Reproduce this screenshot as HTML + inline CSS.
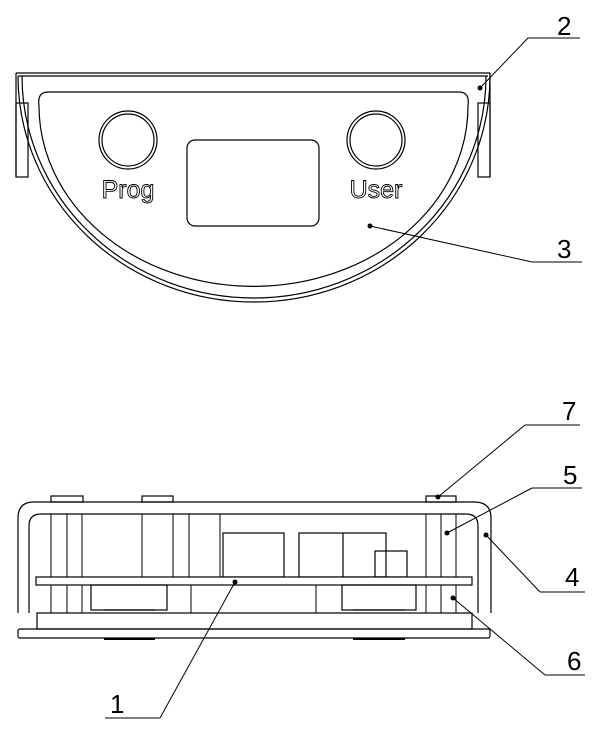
<!DOCTYPE html>
<html><head><meta charset="utf-8"><style>html,body{margin:0;padding:0;background:#fff}svg{display:block}</style></head>
<body>
<svg width="605" height="730" viewBox="0 0 605 730" xmlns="http://www.w3.org/2000/svg" fill="none" stroke="#000" stroke-width="1.2">
<!-- TOP VIEW -->
<line x1="16" y1="73" x2="490" y2="73"/>
<line x1="18" y1="76" x2="488" y2="76"/>
<line x1="16" y1="73" x2="16" y2="177"/><line x1="490" y1="73" x2="490" y2="177"/>
<rect x="16" y="103" width="12" height="74"/>
<rect x="478" y="103" width="12" height="74"/>
<path d="M18 76 A236 226 0 0 0 490 76"/>
<path d="M22 76 A232 222 0 0 0 486 76"/>
<path d="M48 92 L459 92 Q470 92 468 106 A214 180 0 0 1 39 106 Q37 92 48 92 Z"/>
<ellipse cx="128" cy="140" rx="29" ry="29"/><ellipse cx="128" cy="140" rx="26" ry="26"/>
<ellipse cx="376" cy="140" rx="29" ry="29"/><ellipse cx="376" cy="140" rx="26" ry="26"/>
<rect x="187" y="140" width="132" height="86" rx="8"/>
<text x="128" y="198" font-family="Liberation Sans, sans-serif" font-size="25" text-anchor="middle" stroke-width="0.9">Prog</text>
<text x="376" y="198" font-family="Liberation Sans, sans-serif" font-size="25" text-anchor="middle" stroke-width="0.9">User</text>
<!-- leaders top -->
<g stroke-width="1">
<line x1="480" y1="88" x2="528" y2="38"/><line x1="528" y1="38" x2="580" y2="38"/>
<line x1="370" y1="226" x2="532" y2="262"/><line x1="532" y1="262" x2="582" y2="262"/>
</g>
<g fill="#000" stroke="none"><circle cx="480" cy="88" r="2.5"/><circle cx="370" cy="226" r="2.5"/></g>
<!-- SIDE VIEW -->
<rect x="51" y="496" width="32" height="6"/><rect x="142" y="496" width="31" height="6"/><rect x="426" y="496" width="30" height="6"/>
<path d="M18 613 L18 518 Q18 502 34 502 L474 502 Q491 502 491 518 L491 613"/>
<path d="M29 613 L29 526 Q29 514 41 514 L466 514 Q478 514 478 526 L478 613"/>
<g stroke-width="1">
<line x1="51" y1="514" x2="51" y2="613"/><line x1="67" y1="514" x2="67" y2="613"/><line x1="82" y1="514" x2="82" y2="613"/>
<line x1="142" y1="514" x2="142" y2="577"/><line x1="173" y1="514" x2="173" y2="577"/><line x1="189" y1="514" x2="189" y2="577"/><line x1="220" y1="514" x2="220" y2="577"/>
<line x1="191" y1="585" x2="191" y2="613"/><line x1="316" y1="585" x2="316" y2="613"/>
<line x1="426" y1="514" x2="426" y2="613"/><line x1="441" y1="514" x2="441" y2="613"/><line x1="456" y1="514" x2="456" y2="613"/>
</g>
<rect x="223" y="533" width="61" height="44"/>
<rect x="299" y="533" width="87" height="44"/><line x1="343" y1="533" x2="343" y2="577"/>
<rect x="375" y="551" width="32" height="26"/>
<rect x="36" y="577" width="436" height="8" fill="#fff"/>
<rect x="91" y="585" width="76" height="25"/><rect x="342" y="585" width="74" height="25"/>
<line x1="104" y1="610" x2="155" y2="610"/><line x1="353" y1="610" x2="405" y2="610"/>
<rect x="37" y="613" width="435" height="16"/>
<rect x="18" y="629" width="472" height="9" rx="2"/>
<line x1="104" y1="639" x2="155" y2="639" stroke-width="2"/><line x1="353" y1="639" x2="405" y2="639" stroke-width="2"/>
<!-- leaders bottom -->
<g stroke-width="1">
<line x1="438" y1="497" x2="525" y2="425"/><line x1="525" y1="425" x2="580" y2="425"/>
<line x1="447" y1="533" x2="532" y2="488"/><line x1="532" y1="488" x2="582" y2="488"/>
<line x1="486" y1="535" x2="540" y2="592"/><line x1="540" y1="592" x2="585" y2="592"/>
<line x1="453" y1="598" x2="545" y2="675"/><line x1="545" y1="675" x2="585" y2="675"/>
<line x1="235" y1="582" x2="160" y2="718"/><line x1="105" y1="718" x2="160" y2="718"/>
</g>
<g fill="#000" stroke="none"><circle cx="438" cy="497" r="2.5"/><circle cx="447" cy="533" r="2.5"/><circle cx="486" cy="535" r="2.5"/><circle cx="453" cy="598" r="2.5"/><circle cx="235" cy="582" r="2.5"/></g>
<g font-family="Liberation Sans, sans-serif" font-size="26" fill="#000" stroke="none" font-weight="normal">
<text x="557" y="35">2</text>
<text x="557" y="258">3</text>
<text x="562" y="420">7</text>
<text x="563" y="484">5</text>
<text x="565" y="586">4</text>
<text x="567" y="670">6</text>
<text x="110" y="713">1</text>
</g>
</svg>
</body></html>
